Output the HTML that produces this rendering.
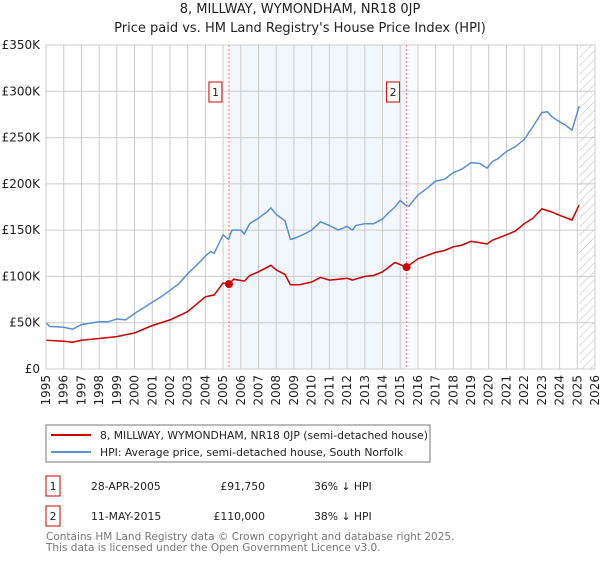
<!DOCTYPE html>
<html><head><meta charset="utf-8"><style>
body{margin:0;background:#fff;font-family:"DejaVu Sans","Liberation Sans",sans-serif;}
svg text{font-family:"DejaVu Sans","Liberation Sans",sans-serif;}
</style></head><body>
<svg id="chart" width="600" height="560" xmlns="http://www.w3.org/2000/svg">
<defs><pattern id="hatch" width="6" height="6" patternUnits="userSpaceOnUse" patternTransform="rotate(45)"><line x1="0" y1="0" x2="0" y2="6" stroke="#bbb" stroke-width="1"/></pattern></defs>
<text x="300" y="13" text-anchor="middle" font-size="13" fill="#222">8, MILLWAY, WYMONDHAM, NR18 0JP</text>
<text x="300" y="32" text-anchor="middle" font-size="13" fill="#222">Price paid vs. HM Land Registry's House Price Index (HPI)</text>
<g id="plot"></g>
<rect x="46" y="425" width="384" height="37" fill="#fff" stroke="#777"/>
<line x1="51" y1="435" x2="91" y2="435" stroke="#cc0000" stroke-width="2"/>
<text x="100" y="439" font-size="10.8" fill="#222">8, MILLWAY, WYMONDHAM, NR18 0JP (semi-detached house)</text>
<line x1="51" y1="452" x2="91" y2="452" stroke="#5b8ed0" stroke-width="2"/>
<text x="100" y="456" font-size="10.8" fill="#222">HPI: Average price, semi-detached house, South Norfolk</text>
<g font-size="10.8" fill="#222">
<rect x="46" y="476" width="14" height="20" fill="none" stroke="#cc0000"/>
<text x="53" y="490" text-anchor="middle">1</text>
<text x="91" y="490">28-APR-2005</text>
<text x="265" y="490" text-anchor="end">£91,750</text>
<text x="314" y="490">36% ↓ HPI</text>
<rect x="46" y="506" width="14" height="20" fill="none" stroke="#cc0000"/>
<text x="53" y="520" text-anchor="middle">2</text>
<text x="91" y="520">11-MAY-2015</text>
<text x="265" y="520" text-anchor="end">£110,000</text>
<text x="314" y="520">38% ↓ HPI</text>
</g>
<text x="46" y="540" font-size="10.5" fill="#777">Contains HM Land Registry data © Crown copyright and database right 2025.</text>
<text x="46" y="551" font-size="10.5" fill="#777">This data is licensed under the Open Government Licence v3.0.</text>
</svg>
<script>
const hpiYears=[1995,1995.2,1996,1996.5,1997,1998,1998.5,1999,1999.5,2000,2001,2001.5,2002,2002.5,2003,2003.5,2004,2004.3,2004.5,2005,2005.3,2005.5,2006,2006.2,2006.5,2007,2007.5,2007.7,2008,2008.5,2008.8,2009,2009.5,2010,2010.5,2011,2011.5,2012,2012.3,2012.5,2013,2013.5,2014,2014.3,2014.7,2015,2015.3,2015.5,2016,2016.5,2017,2017.5,2018,2018.5,2019,2019.5,2019.9,2020.2,2020.5,2021,2021.5,2022,2022.5,2023,2023.3,2023.6,2024,2024.3,2024.7,2025,2025.1];
const hpiValues=[50,46,45,43,48,51,51,54,53,60,72,78,85,92,103,112,122,127,125,145,140,150,150,146,157,163,170,174,167,160,140,141,145,150,159,155,150,154,150,155,157,157,162,168,175,182,177,176,188,195,203,205,212,216,223,222,217,224,227,235,240,248,262,277,278,272,267,264,258,277,284];
const priceYears=[1995,1996,1996.5,1997,1998,1999,2000,2001,2002,2003,2003.5,2004,2004.5,2005,2005.33,2005.6,2006.2,2006.5,2007,2007.7,2008,2008.5,2008.8,2009.3,2010,2010.5,2011,2011.5,2012,2012.3,2013,2013.5,2014,2014.7,2015.36,2016,2017,2017.5,2018,2018.5,2019,2019.9,2020.2,2021,2021.5,2022,2022.5,2023,2023.5,2024,2024.7,2025.1];
const priceValues=[31,30,29,31,33,35,39,47,53,62,70,78,80,93,91.75,97,95,101,105,112,107,102,91,91,94,99,96,97,98,96,100,101,105,115,110,119,126,128,132,134,138,135,139,145,149,157,163,173,170,166,161,177];
const saleYears=[2005.33,2015.36];
const saleValues=[91750,110000];
const saleLabels=["1","2"];
const yTicks=[0,50,100,150,200,250,300,350];
const yTickLabels=["£0","£50K","£100K","£150K","£200K","£250K","£300K","£350K"];
const xTicks=[];for(let y=1995;y<=2026;y++)xTicks.push(y);

const L=46,R=595,T=45,B=369,X0=1995,X1=2026,YMAX=350;
const xs=v=>L+(v-X0)/(X1-X0)*(R-L);
const ys=v=>B-v/YMAX*(B-T);
const NS="http://www.w3.org/2000/svg";
const g=document.getElementById('plot');
function mk(tag,attrs,parent){const e=document.createElementNS(NS,tag);for(const k in attrs)e.setAttribute(k,attrs[k]);(parent||g).appendChild(e);return e;}

let e=mk('rect',{x:xs(saleYears[0]),y:T,width:xs(saleYears[1])-xs(saleYears[0]),height:B-T,fill:'#f2f6fd'});


e=mk('rect',{x:xs(2025.1),y:T,width:R-xs(2025.1),height:B-T,fill:'url(#hatch)'});


xTicks.forEach(t=>{
  const l=mk('line',{x1:xs(t),x2:xs(t),y1:T,y2:B,stroke:'#ccc','stroke-width':1});
  
  
  const tx=mk('text',{x:0,y:0,'font-size':12,fill:'#222','text-anchor':'end',transform:`translate(${xs(t)+4},375) rotate(-90)`});
  tx.textContent=t;
  
  
});
yTicks.forEach((t,i)=>{
  const l=mk('line',{x1:L,x2:R,y1:ys(t),y2:ys(t),stroke:'#ccc','stroke-width':1});
  
  
  const tx=mk('text',{x:L-6,y:ys(t)+4,'font-size':12,fill:'#222','text-anchor':'end'});
  tx.textContent=yTickLabels[i];
  
  
});
saleYears.forEach((s,i)=>{
  const l=mk('line',{x1:xs(s),x2:xs(s),y1:T,y2:B,stroke:'#f77','stroke-width':1,'stroke-dasharray':'2,2'});
  
  
  const r=mk('rect',{x:xs(s)-20,y:T+37,width:13,height:20,fill:'#fff',stroke:'#cc0000'});
  
  
  const tx=mk('text',{x:xs(s)-13.5,y:T+51,'font-size':11,fill:'#222','text-anchor':'middle'});
  tx.textContent=saleLabels[i];
  
  
});
e=mk('path',{d:hpiYears.map((y,i)=>(i?'L':'M')+xs(y).toFixed(1)+','+ys(hpiValues[i]).toFixed(1)).join(''),fill:'none',stroke:'#5b8ed0','stroke-width':1.5});


e=mk('path',{d:priceYears.map((y,i)=>(i?'L':'M')+xs(y).toFixed(1)+','+ys(priceValues[i]).toFixed(1)).join(''),fill:'none',stroke:'#cc0000','stroke-width':1.5});


saleYears.forEach((s,i)=>{
  const c=mk('circle',{cx:xs(s),cy:ys(saleValues[i]/1000),r:4,fill:'#cc0000'});
  
  
});
e=mk('line',{x1:L,x2:L,y1:T,y2:B,stroke:'#ccc'});


</script>
</body></html>
